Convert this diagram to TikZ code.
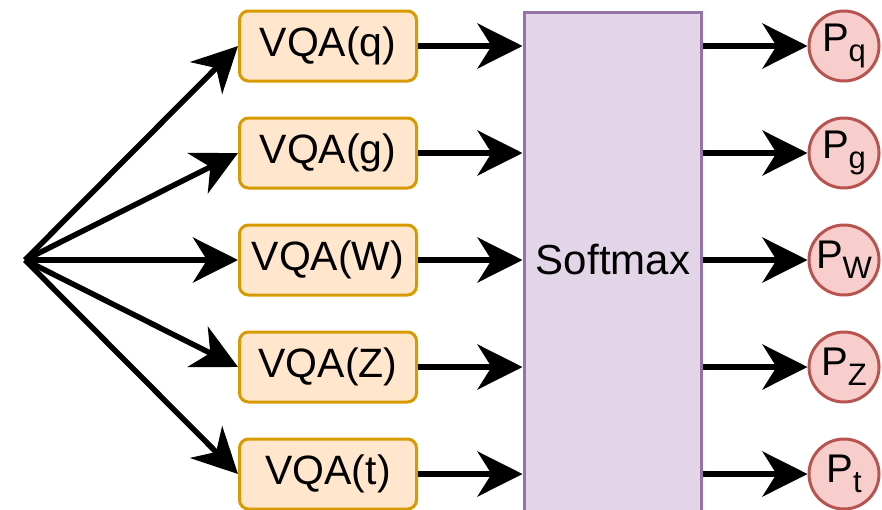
\documentclass[tikz,border=0pt]{standalone}
\usepackage{fontspec}
\setmainfont{Liberation Sans}
\usetikzlibrary{arrows.meta}
\definecolor{boxfill}{HTML}{FFE6CC}
\definecolor{boxdraw}{HTML}{D79B00}
\definecolor{smfill}{HTML}{E1D5E7}
\definecolor{smdraw}{HTML}{9673A6}
\definecolor{probfill}{HTML}{F8CECC}
\definecolor{probdraw}{HTML}{B85450}
\newcommand{\probtext}[1]{\fontsize{40}{44}\selectfont P\raisebox{-10pt}{\fontsize{31}{34}\selectfont #1}}
\begin{document}
\begin{tikzpicture}[x=1pt,y=-1pt,
  vqa/.style={draw=boxdraw, fill=boxfill, line width=3pt, rounded corners=9pt,
    minimum width=177pt, minimum height=70pt, inner sep=0pt,
    font=\fontsize{41}{48}\selectfont},
  prob/.style={circle, draw=probdraw, fill=probfill, line width=3pt,
    minimum size=70pt, inner sep=0pt},
  link/.style={line width=5.5pt, -{Stealth[length=45pt,width=45pt,inset=14pt]}},
]
\useasboundingbox (0,0) rectangle (882,509);
\clip (0,0) rectangle (882,509);

% softmax block (runs past the lower edge)
\node[draw=smdraw, fill=smfill, line width=3pt, minimum width=177pt,
  minimum height=510pt, anchor=north, inner sep=0pt] (sm) at (612.5,11) {};
\node[font=\fontsize{42}{48}\selectfont] (smlabel) at (613,260) {Softmax};

% VQA branches
\node[vqa] (vq) at (328,46)  {VQA(q)};
\node[vqa] (vg) at (328,153) {VQA(g)};
\node[vqa] (vw) at (328,260) {VQA(W)};
\node[vqa] (vz) at (328,367) {VQA(Z)};
\node[vqa] (vt) at (328,474) {VQA(t)};

% output probabilities
\node[prob] (pq) at (844,46)  {\probtext{q}};
\node[prob] (pg) at (844,153) {\probtext{g}};
\node[prob] (pw) at (844,260) {\probtext{W}};
\node[prob] (pz) at (844,367) {\probtext{Z}};
\node[prob] (pt) at (844,474) {\probtext{t}};

% fan-out from the common source
\coordinate (src) at (25,260);
\foreach \n in {vq,vg,vw,vz,vt}
  \draw[link] (src) -- (\n.west);

% into softmax
\foreach \n in {vq,vg,vw,vz,vt}
  \draw[link] (\n.east) -- (\n.east -| sm.west);

% out of softmax
\foreach \n in {pq,pg,pw,pz,pt}
  \draw[link] (\n.west -| sm.east) -- (\n.west);
\end{tikzpicture}
\end{document}
